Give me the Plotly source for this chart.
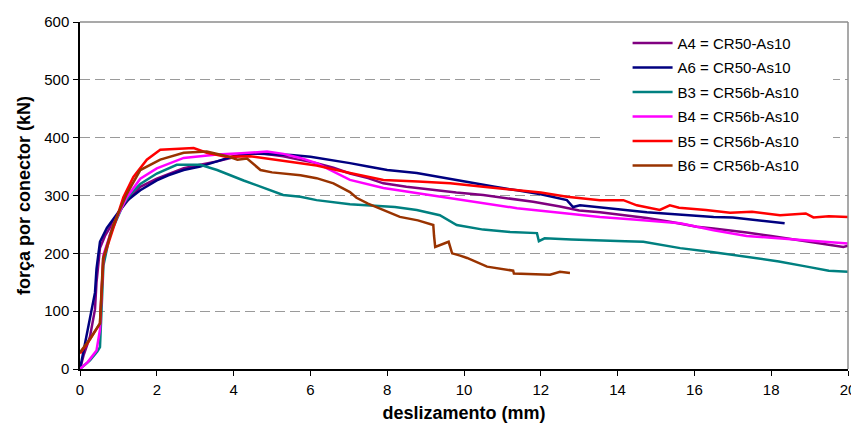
import plotly.graph_objects as go

# ---- data (deslizamento mm, força kN) ----
a4_x = [0, 0.1, 0.26, 0.39, 0.43, 0.52, 0.65, 0.78, 1.04, 1.3, 1.57, 2.0, 2.4, 2.7, 3.1, 3.57, 4.0, 4.43, 4.8,
        5.29, 5.7, 6.16, 6.6, 7.03, 7.5, 7.9, 8.5, 9.2, 9.8, 10.5, 11.2, 11.8, 12.5, 13.0, 13.54, 14.2, 14.76,
        15.4, 16.06, 16.5, 16.93, 17.36, 18.0, 18.67, 19.3, 19.88, 20]
a4_y = [0, 25, 56, 103, 150, 209, 230, 244, 274, 296, 315, 329, 340, 347, 353, 359, 366, 372, 372,
        368, 362, 356, 348, 338, 330, 321, 315, 309, 305, 301, 295, 289, 281, 274, 271, 266, 261,
        254, 246, 243, 240, 236, 230, 223, 217, 211, 213]

a6_x = [0, 0.17, 0.3, 0.39, 0.43, 0.52, 0.7, 0.96, 1.22, 1.57, 2.0, 2.3, 2.7, 3.13, 3.5, 4.0, 4.43, 5.0, 5.5,
        6.0, 6.5, 7.03, 7.5, 8.0, 8.77, 9.5, 10.16, 10.8, 11.38, 12.0, 12.68, 12.84, 13.02, 13.54, 14.2,
        14.76, 15.4, 16.0, 16.5, 17.0, 17.5, 18.0, 18.35]
a6_y = [0, 56, 100, 132, 173, 220, 244, 268, 291, 309, 326, 335, 344, 350, 358, 368, 373, 372, 370,
        367, 362, 356, 350, 344, 339, 330, 322, 315, 309, 302, 292, 280, 283, 280, 275,
        271, 268, 265, 263, 262, 258, 254, 252]

b3_x = [0, 0.26, 0.45, 0.52, 0.56, 0.61, 0.78, 1.0, 1.13, 1.35, 1.57, 2.0, 2.52, 3.13, 3.57, 4.26, 4.87,
        5.29, 5.74, 6.16, 7.03, 7.64, 8.2, 8.77, 9.37, 9.81, 10.5, 11.2, 11.9, 11.95, 12.1, 12.8, 13.54,
        14.2, 14.67, 15.2, 15.63, 16.5, 17.36, 18.2, 18.93, 19.5, 20]
b3_y = [0, 15, 30, 38, 100, 179, 232, 266, 285, 305, 320, 338, 353, 353, 344, 326, 312,
        301, 298, 292, 285, 283, 280, 275, 266, 249, 241, 237, 235, 221, 226, 224, 223,
        221, 220, 214, 209, 202, 194, 186, 177, 170, 168]

b4_x = [0, 0.2, 0.43, 0.52, 0.56, 0.61, 0.87, 1.22, 1.57, 2.0, 2.7, 3.57, 4.2, 4.87, 5.3, 5.74, 6.16, 6.6,
        7.03, 7.9, 8.8, 9.64, 10.5, 11.38, 12.5, 13.54, 14.5, 15.63, 16.5, 17.36, 18.0, 18.67, 19.3, 20]
b4_y = [0, 12, 32, 68, 130, 197, 250, 297, 329, 347, 365, 371, 373, 376, 372, 365, 356, 342,
        327, 313, 304, 296, 287, 278, 270, 263, 258, 252, 240, 230, 227, 224, 221, 217]

b5_x = [0, 0.2, 0.52, 0.56, 0.61, 0.87, 1.13, 1.39, 1.74, 2.09, 2.5, 2.96, 3.3, 3.8, 4.43, 5.29, 6.16,
        7.03, 7.9, 8.8, 9.64, 10.5, 11.38, 12.0, 12.68, 13.02, 13.54, 14.15, 14.5, 15.1, 15.36, 15.6,
        16.3, 16.93, 17.5, 18.23, 18.9, 19.1, 19.5, 20]
b5_y = [27, 45, 79, 140, 191, 244, 297, 332, 362, 379, 381, 382, 374, 367, 368, 360, 352,
        339, 327, 324, 321, 315, 309, 305, 298, 296, 292, 292, 283, 275, 283, 279,
        275, 270, 272, 266, 269, 262, 264, 263]

b6_x = [0, 0.26, 0.52, 0.56, 0.6, 0.87, 1.22, 1.57, 2.09, 2.7, 3.3, 3.83, 4.1, 4.35, 4.5, 4.7, 5.0, 5.3,
        5.74, 6.16, 6.6, 7.03, 7.2, 7.5, 7.9, 8.33, 8.8, 9.2, 9.22, 9.25, 9.6, 9.65, 9.69, 9.9, 10.08,
        10.6, 11.28, 11.3, 11.8, 12.24, 12.5, 12.76]
b6_y = [29, 52, 79, 130, 191, 250, 303, 344, 362, 374, 376, 368, 362, 364, 355, 344, 340, 338,
        335, 330, 321, 306, 296, 286, 275, 263, 257, 249, 230, 211, 220, 210, 200, 196, 192,
        177, 170, 165, 164, 163, 168, 166]

series_names = ["A4 = CR50-As10", "A6 = CR50-As10", "B3 = CR56b-As10",
                "B4 = CR56b-As10", "B5 = CR56b-As10", "B6 = CR56b-As10"]
series_colors = ["#800080", "#000080", "#008080", "#FF00FF", "#FF0000", "#993300"]
series_x = [a4_x, a6_x, b3_x, b4_x, b5_x, b6_x]
series_y = [a4_y, a6_y, b3_y, b4_y, b5_y, b6_y]

x_ticks = [0, 2, 4, 6, 8, 10, 12, 14, 16, 18, 20]
y_ticks = [0, 100, 200, 300, 400, 500, 600]

FONT = "Liberation Sans, Arial, sans-serif"

fig = go.Figure()
for name, col, xs, ys in zip(series_names, series_colors, series_x, series_y):
    fig.add_trace(go.Scatter(x=xs, y=ys, mode="lines", name=name, legendgroup=name,
                             line=dict(color=col, width=2.5)))

# the page body adds an 8px offset; margins compensate for it
fig.update_layout(
    width=859, height=432,
    margin=dict(l=72, r=19, t=14, b=71, autoexpand=False),
    paper_bgcolor="white", plot_bgcolor="white",
    font=dict(family=FONT, size=15, color="black"),
    showlegend=True,
    legend=dict(x=0.713, y=0.986, xanchor="left", yanchor="top",
                bgcolor="rgba(0,0,0,0)", borderwidth=0,
                font=dict(family=FONT, size=15, color="black"),
                tracegroupgap=2, itemwidth=40),
    xaxis=dict(range=[0, 20], tickvals=x_ticks, showgrid=False, zeroline=False, automargin=False,
               showline=True, linecolor="black", linewidth=1.5,
               ticks="outside", ticklen=5, tickcolor="black",
               tickfont=dict(size=15), ticklabelstandoff=1,
               title=dict(text="<b>deslizamento (mm)</b>", font=dict(size=18), standoff=10)),
    yaxis=dict(range=[0, 600], tickvals=y_ticks, showgrid=True, gridcolor="#9a9a9a",
               griddash="10px,5px", gridwidth=1, zeroline=False, automargin=False,
               showline=True, linecolor="black", linewidth=1.5,
               ticks="outside", ticklen=5, tickcolor="black",
               tickfont=dict(size=15), ticklabelstandoff=1,
               title=dict(text="<b>força por conector (kN)</b>", font=dict(size=18), standoff=9)),
    shapes=[
        dict(type="rect", xref="paper", yref="paper", x0=0.6836, x1=0.9805, y0=0.53, y1=0.995,
             fillcolor="white", line=dict(width=0), layer="above"),
        dict(type="line", xref="paper", yref="paper", x0=0, x1=1, y0=1, y1=1,
             line=dict(color="#8c8c8c", width=1.5), layer="above"),
        dict(type="line", xref="paper", yref="paper", x0=1, x1=1, y0=0, y1=1,
             line=dict(color="#8c8c8c", width=1.5), layer="above"),
    ],
)

fig.write_html("out.html")
